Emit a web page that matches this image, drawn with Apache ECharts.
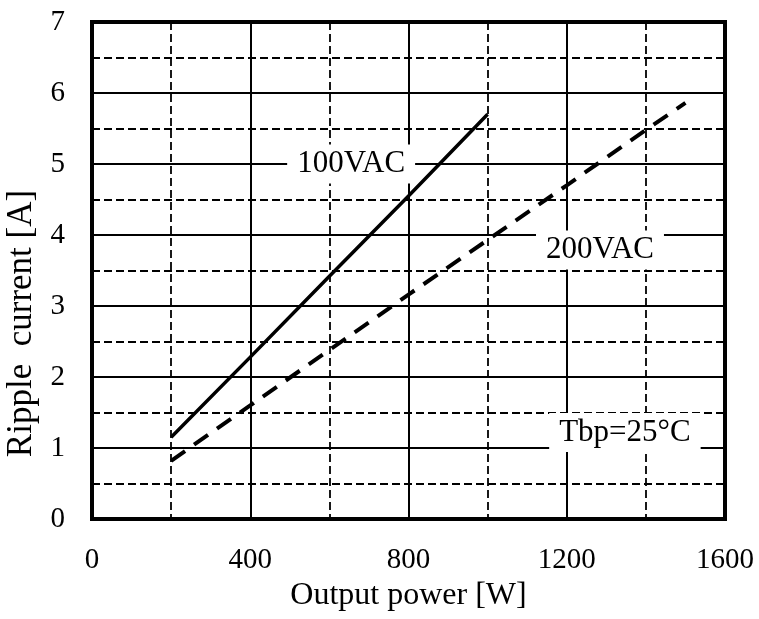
<!DOCTYPE html>
<html>
<head>
<meta charset="utf-8">
<style>
  html, body { margin: 0; padding: 0; background: #fff; }
  #chart { width: 759px; height: 619px; }
</style>
<script src="https://cdn.jsdelivr.net/npm/echarts@6/dist/echarts.min.js"></script>
</head>
<body>
<div id="chart"></div>
<script>
// 100VAC curve
const power100 = [200, 400, 600, 800, 1000]
const ripple100 = [1.15, 2.28, 3.42, 4.55, 5.7]

// 200VAC curve
const power200 = [200, 400, 600, 800, 1000, 1200, 1400, 1500]
const ripple200 = [0.82, 1.6, 2.38, 3.16, 3.93, 4.7, 5.48, 5.86]

// text notes inside the plot, in data units
const noteText = ['100VAC', '200VAC', 'Tbp=25°C']
const noteX = [655, 1284, 1347]
const noteY = [5.0, 3.79, 1.22]

const font = 'Liberation Serif'

const chart = echarts.init(document.getElementById('chart'))

const solidGrid = { show: true, lineStyle: { color: '#000', width: 2, type: 'solid' } }
const dashGrid = { show: true, lineStyle: { color: '#000', width: 1.8, type: [8, 4] } }
const hidden = { axisLine: { show: false }, axisTick: { show: false }, axisLabel: { show: false } }

const option = {
  animation: false,
  backgroundColor: '#fff',
  grid: {
    left: 92, right: 34, top: 22, bottom: 100,
    outerBoundsMode: 'none',
    containLabel: false,
    show: true,
    borderColor: '#000',
    borderWidth: 4,
    backgroundColor: 'transparent'
  },
  xAxis: [
    {
      type: 'value', min: 0, max: 1600, interval: 200,
      position: 'bottom',
      ...hidden,
      splitLine: dashGrid,
      z: 1
    },
    {
      type: 'value', min: 0, max: 1600, interval: 400,
      position: 'bottom',
      name: 'Output power [W]',
      nameLocation: 'middle',
      nameGap: 59,
      nameTextStyle: { fontFamily: font, fontSize: 32, color: '#000' },
      axisLine: { show: false },
      axisTick: { show: false },
      axisLabel: { fontFamily: font, fontSize: 29, color: '#000', margin: 27, formatter: v => String(v) },
      splitLine: solidGrid,
      z: 2
    }
  ],
  yAxis: [
    {
      type: 'value', min: 0, max: 7, interval: 0.5,
      position: 'left',
      ...hidden,
      splitLine: dashGrid,
      z: 1
    },
    {
      type: 'value', min: 0, max: 7, interval: 1,
      position: 'left',
      name: 'Ripple  current [A]',
      nameLocation: 'middle',
      nameGap: 50,
      nameTextStyle: { fontFamily: font, fontSize: 35, color: '#000', padding: [0, 106, 0, 0] },
      axisLine: { show: false },
      axisTick: { show: false },
      axisLabel: { fontFamily: font, fontSize: 29, color: '#000', margin: 27 },
      splitLine: solidGrid,
      z: 2
    }
  ],
  series: [
    {
      name: '100VAC',
      type: 'line',
      xAxisIndex: 1, yAxisIndex: 1,
      data: power100.map((p, i) => [p, ripple100[i]]),
      symbol: 'none',
      lineStyle: { color: '#000', width: 3.5, type: 'solid' },
      z: 5
    },
    {
      name: '200VAC',
      type: 'line',
      xAxisIndex: 1, yAxisIndex: 1,
      data: power200.map((p, i) => [p, ripple200[i]]),
      symbol: 'none',
      lineStyle: { color: '#000', width: 4, type: [17, 11] },
      z: 5
    },
    {
      name: 'notes',
      type: 'scatter',
      xAxisIndex: 1, yAxisIndex: 1,
      symbolSize: 0,
      itemStyle: { opacity: 1 },
      data: noteText.map((t, i) => ({ value: [noteX[i], noteY[i]], name: t })),
      label: {
        show: true,
        position: 'inside',
        formatter: p => p.name,
        fontFamily: font,
        fontSize: 31,
        color: '#000',
        backgroundColor: '#fff',
        padding: [4, 10]
      },
      z: 6
    }
  ]
}

chart.setOption(option)
</script>
</body>
</html>
